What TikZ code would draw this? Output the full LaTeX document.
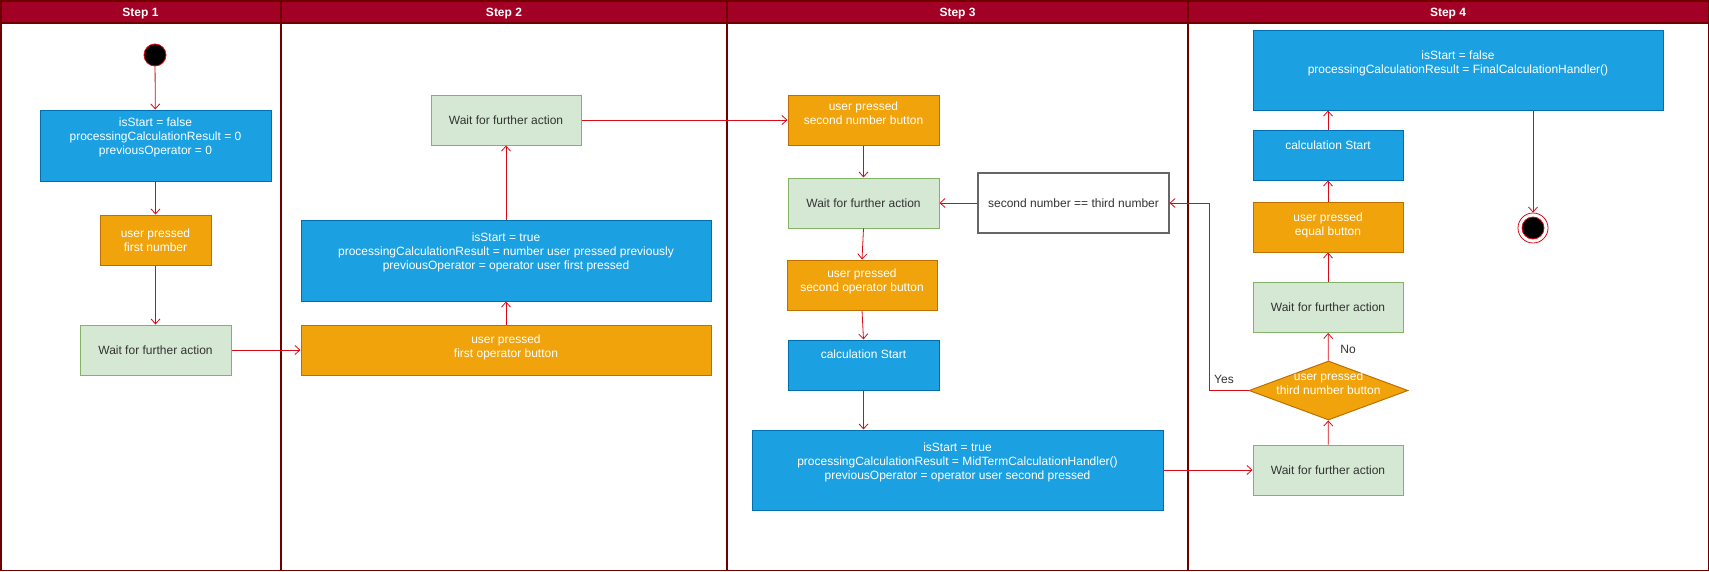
\documentclass[tikz,border=0pt]{standalone}
\usepackage{fontspec}
\setmainfont{Liberation Sans}
\usetikzlibrary{arrows.meta,shapes.geometric}
\definecolor{hdr}{HTML}{A20025}
\definecolor{hdrline}{HTML}{6F0000}
\definecolor{bluef}{HTML}{1BA1E2}
\definecolor{bluel}{HTML}{006EAF}
\definecolor{orf}{HTML}{F0A30A}
\definecolor{orl}{HTML}{BD7000}
\definecolor{grf}{HTML}{D5E8D4}
\definecolor{grl}{HTML}{82B366}
\definecolor{arr}{HTML}{D90A17}
\definecolor{txt}{HTML}{333333}
\begin{document}
\begin{tikzpicture}[x=1pt,y=-1pt,
  every node/.style={font=\fontsize{12}{14}\selectfont},
  box/.style={rectangle, inner sep=0pt, line width=1pt},
  bluebox/.style={box, fill=bluef, draw=bluel},
  orbox/.style={box, fill=orf, draw=orl},
  grbox/.style={box, fill=grf, draw=grl, text=txt},
  whbox/.style={box, fill=white, draw=black!60, line width=1.1pt, text=txt},
  wt/.style={text=white, align=center, inner sep=0pt},
  lbl/.style={text=txt, inner sep=0pt},
  hdrtxt/.style={text=white, inner sep=0pt, font=\fontsize{12}{14}\selectfont\bfseries},
  lane/.style={draw=hdrline, line width=1.5pt},
  flow/.style={draw=arr, line width=0.8pt, -{Straight Barb[length=5pt,width=9pt]}}
]
\useasboundingbox (0,0) rectangle (1709,571);
% lanes
\fill[white] (0,0) rectangle (1709,571);
\fill[hdr] (0,0) rectangle (1709,23);
\draw[lane] (0.75,0.75) rectangle (1708.25,570.25);
\draw[lane] (0,23) -- (1709,23);
\draw[lane] (281,0) -- (281,571);
\draw[lane] (727,0) -- (727,571);
\draw[lane] (1188,0) -- (1188,571);
\node[hdrtxt] (h1) at (140.5,14) {Step 1};
\node[hdrtxt] (h2) at (504,14) {Step 2};
\node[hdrtxt] (h3) at (957.5,14) {Step 3};
\node[hdrtxt] (h4) at (1448,14) {Step 4};

% Step 1
\node[circle, fill=black, draw=arr, line width=0.8pt, minimum size=22pt, inner sep=0pt] (start) at (155,55) {};
\node[bluebox, minimum width=231pt, minimum height=71pt] (b1) at (155.5,145.5) {};
\node[wt] (b1t) at ([yshift=8pt]b1.center) {isStart = false\\processingCalculationResult = 0\\previousOperator = 0};
\node[orbox, minimum width=111pt, minimum height=50pt] (o1) at (155.5,240) {};
\node[wt] (o1t) at (o1.center) {user pressed\\first number};
\node[grbox, minimum width=151pt, minimum height=50pt] (g1) at (155.5,350) {Wait for further action};

% Step 2
\node[grbox, minimum width=150pt, minimum height=50pt] (g2) at (506,120) {Wait for further action};
\node[bluebox, minimum width=410pt, minimum height=81pt] (b2) at (506,260.5) {};
\node[wt] (b2t) at ([yshift=8pt]b2.center) {isStart = true\\processingCalculationResult = number user pressed previously\\previousOperator = operator user first pressed};
\node[orbox, minimum width=410pt, minimum height=50pt] (o2) at (506,350) {};
\node[wt] (o2t) at ([yshift=3pt]o2.center) {user pressed\\first operator button};

% Step 3
\node[orbox, minimum width=151pt, minimum height=50pt] (o3) at (863.5,120) {};
\node[wt] (o3t) at ([yshift=7pt]o3.center) {user pressed\\second number button};
\node[grbox, minimum width=151pt, minimum height=50pt] (g3) at (863.5,203) {Wait for further action};
\node[whbox, minimum width=191pt, minimum height=60pt] (wb) at (1073.5,203) {second number == third number};
\node[orbox, minimum width=150pt, minimum height=50pt] (o4) at (862,285) {};
\node[wt] (o4t) at ([yshift=3.5pt]o4.center) {user pressed\\second operator button};
\node[bluebox, minimum width=151pt, minimum height=50pt] (cs3) at (863.5,365) {};
\node[wt] (cs3t) at ([yshift=11pt]cs3.center) {calculation Start};
\node[bluebox, minimum width=411pt, minimum height=80pt] (b3) at (957.5,470) {};
\node[wt] (b3t) at ([yshift=8pt]b3.center) {isStart = true\\processingCalculationResult = MidTermCalculationHandler()\\previousOperator = operator user second pressed};

% Step 4
\node[bluebox, minimum width=410pt, minimum height=80pt] (b4) at (1458,70) {};
\node[wt] (b4t) at ([yshift=7pt]b4.center) {isStart = false\\processingCalculationResult = FinalCalculationHandler()};
\node[bluebox, minimum width=150pt, minimum height=50pt] (cs4) at (1328,155) {};
\node[wt] (cs4t) at ([yshift=10pt]cs4.center) {calculation Start};
\node[orbox, minimum width=150pt, minimum height=50pt] (o5) at (1328,227) {};
\node[wt] (o5t) at ([yshift=2pt]o5.center) {user pressed\\equal button};
\node[grbox, minimum width=150pt, minimum height=50pt] (g4) at (1328,307.5) {Wait for further action};
\node[diamond, fill=orf, draw=orl, line width=1pt, minimum width=159pt, minimum height=59pt, inner sep=0pt] (dia) at (1328.5,390.5) {};
\node[wt] (diat) at ([yshift=7pt]dia.center) {user pressed\\third number button};
\node[grbox, minimum width=150pt, minimum height=50pt] (g5) at (1328,470) {Wait for further action};
\node[circle, fill=white, draw=arr, line width=0.8pt, minimum size=30pt, inner sep=0pt] (end) at (1533,228) {};
\node[circle, fill=black, draw=arr, line width=0.8pt, minimum size=22pt, inner sep=0pt] (endin) at (end.center) {};
\node[lbl] (no) at (1348,349) {No};
\node[lbl] (yes) at (1224,379) {Yes};
\coordinate (yc) at (1209,203);

% connectors
\draw[flow] (start) -- (b1);
\draw[flow] (b1) -- (o1);
\draw[flow] (o1) -- (g1);
\draw[flow] (g1) -- (o2);
\draw[flow] (o2) -- (b2);
\draw[flow] (b2) -- (g2);
\draw[flow] (g2) -- (o3);
\draw[flow] (o3) -- (g3);
\draw[flow] (g3.south) -- (o4.north);
\draw[flow] (o4.south) -- (cs3.north);
\draw[flow] (cs3.south) -- (cs3.south |- b3.north);
\draw[flow] (wb) -- (g3);
\draw[flow] (b3.east) -- (b3.east -| g5.west);
\draw[flow] (g5) -- (dia);
\draw[flow] (dia) -- (g4);
\draw[flow] (g4) -- (o5);
\draw[flow] (o5) -- (cs4);
\draw[flow] (cs4.north) -- (cs4.north |- b4.south);
\draw[flow] (dia.west) -| (yc) -- (wb.east);
\draw[flow] (end.north |- b4.south) -- (end.north);
\end{tikzpicture}
\end{document}
